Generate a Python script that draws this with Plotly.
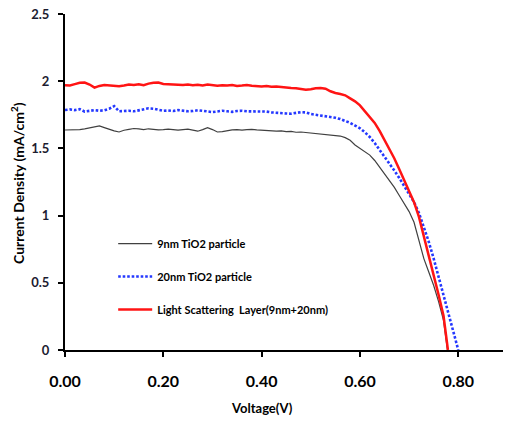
import plotly.graph_objects as go

# ---- data ----
v_9nm = [0.00, 0.01, 0.02, 0.03, 0.04, 0.05, 0.06, 0.07, 0.08, 0.09,
         0.10, 0.11, 0.12, 0.13, 0.14, 0.15, 0.16, 0.17, 0.18, 0.19,
         0.20, 0.21, 0.22, 0.23, 0.24, 0.25, 0.26, 0.27, 0.28, 0.29,
         0.30, 0.31, 0.32, 0.33, 0.34, 0.35, 0.36, 0.37, 0.38, 0.39,
         0.40, 0.41, 0.42, 0.43, 0.44, 0.45, 0.46, 0.47, 0.48, 0.49,
         0.50, 0.51, 0.52, 0.53, 0.54, 0.55, 0.56, 0.57, 0.58, 0.59,
         0.60, 0.61, 0.62, 0.63, 0.64, 0.65, 0.66, 0.67, 0.68, 0.69,
         0.70, 0.71, 0.72, 0.73, 0.74, 0.75, 0.76, 0.77, 0.778]
j_9nm = [1.637, 1.637, 1.637, 1.640, 1.645, 1.652, 1.660, 1.667, 1.655, 1.640,
         1.630, 1.622, 1.635, 1.642, 1.648, 1.645, 1.640, 1.646, 1.642, 1.638,
         1.640, 1.644, 1.640, 1.636, 1.640, 1.643, 1.636, 1.628, 1.640, 1.655,
         1.640, 1.622, 1.625, 1.634, 1.638, 1.640, 1.636, 1.640, 1.642, 1.638,
         1.635, 1.636, 1.632, 1.628, 1.630, 1.625, 1.626, 1.620, 1.622, 1.618,
         1.615, 1.612, 1.606, 1.600, 1.598, 1.596, 1.592, 1.580, 1.560, 1.525,
         1.500, 1.478, 1.450, 1.410, 1.360, 1.310, 1.260, 1.210, 1.150, 1.090,
         1.030, 0.950, 0.820, 0.680, 0.580, 0.480, 0.360, 0.220, 0.000]

v_20nm = [0.00, 0.01, 0.02, 0.03, 0.04, 0.05, 0.06, 0.07, 0.08, 0.09,
          0.10, 0.11, 0.12, 0.13, 0.14, 0.15, 0.16, 0.17, 0.18, 0.19,
          0.20, 0.21, 0.22, 0.23, 0.24, 0.25, 0.26, 0.27, 0.28, 0.29,
          0.30, 0.31, 0.32, 0.33, 0.34, 0.35, 0.36, 0.37, 0.38, 0.39,
          0.40, 0.41, 0.42, 0.43, 0.44, 0.45, 0.46, 0.47, 0.48, 0.49,
          0.50, 0.51, 0.52, 0.53, 0.54, 0.55, 0.56, 0.57, 0.58, 0.59,
          0.60, 0.61, 0.62, 0.63, 0.64, 0.65, 0.66, 0.67, 0.68, 0.69,
          0.70, 0.71, 0.72, 0.73, 0.74, 0.75, 0.76, 0.77, 0.78, 0.79, 0.80]
j_20nm = [1.786, 1.790, 1.785, 1.792, 1.774, 1.780, 1.785, 1.780, 1.784, 1.795,
          1.815, 1.776, 1.778, 1.780, 1.776, 1.785, 1.790, 1.798, 1.795, 1.785,
          1.780, 1.782, 1.778, 1.785, 1.780, 1.776, 1.778, 1.784, 1.780, 1.776,
          1.770, 1.775, 1.780, 1.776, 1.772, 1.778, 1.780, 1.776, 1.775, 1.778,
          1.772, 1.774, 1.768, 1.764, 1.762, 1.760, 1.758, 1.762, 1.770, 1.768,
          1.756, 1.750, 1.745, 1.738, 1.735, 1.728, 1.718, 1.705, 1.690, 1.670,
          1.650, 1.620, 1.585, 1.540, 1.490, 1.440, 1.390, 1.335, 1.280, 1.220,
          1.160, 1.100, 1.020, 0.920, 0.805, 0.680, 0.545, 0.405, 0.265, 0.125, 0.000]

v_lsl = [0.00, 0.01, 0.02, 0.03, 0.04, 0.05, 0.06, 0.07, 0.08, 0.09,
         0.10, 0.11, 0.12, 0.13, 0.14, 0.15, 0.16, 0.17, 0.18, 0.19,
         0.20, 0.21, 0.22, 0.23, 0.24, 0.25, 0.26, 0.27, 0.28, 0.29,
         0.30, 0.31, 0.32, 0.33, 0.34, 0.35, 0.36, 0.37, 0.38, 0.39,
         0.40, 0.41, 0.42, 0.43, 0.44, 0.45, 0.46, 0.47, 0.48, 0.49,
         0.50, 0.51, 0.52, 0.53, 0.54, 0.55, 0.56, 0.57, 0.58, 0.59,
         0.60, 0.61, 0.62, 0.63, 0.64, 0.65, 0.66, 0.67, 0.68, 0.69,
         0.70, 0.71, 0.72, 0.73, 0.74, 0.75, 0.76, 0.77, 0.779]
j_lsl = [1.970, 1.968, 1.978, 1.988, 1.990, 1.975, 1.952, 1.965, 1.972, 1.970,
         1.966, 1.962, 1.968, 1.975, 1.972, 1.978, 1.970, 1.982, 1.988, 1.990,
         1.980, 1.978, 1.975, 1.970, 1.972, 1.976, 1.970, 1.974, 1.968, 1.975,
         1.972, 1.966, 1.970, 1.968, 1.972, 1.965, 1.968, 1.972, 1.966, 1.962,
         1.960, 1.964, 1.958, 1.960, 1.955, 1.952, 1.950, 1.948, 1.942, 1.936,
         1.940, 1.948, 1.950, 1.944, 1.925, 1.912, 1.905, 1.895, 1.872, 1.850,
         1.820, 1.775, 1.735, 1.690, 1.630, 1.565, 1.500, 1.425, 1.345, 1.265,
         1.180, 1.100, 0.990, 0.850, 0.710, 0.560, 0.410, 0.255, 0.000]

names = ["9nm TiO2 particle", "20nm TiO2 particle",
         "Light Scattering  Layer(9nm+20nm)"]
x_ticks = [0.0, 0.2, 0.4, 0.6, 0.8]
y_ticks = [0, 0.5, 1, 1.5, 2, 2.5]
y_ticklabels = ["0", "0.5", "1", "1.5", "2", "2.5"]

FONT = "Lato"

fig = go.Figure()
fig.add_trace(go.Scatter(x=v_9nm, y=j_9nm, mode="lines", name=names[0],
                         legendgroup="a",
                         line=dict(color="#404040", width=1.2)))
fig.add_trace(go.Scatter(x=v_20nm, y=j_20nm, mode="lines", name=names[1],
                         legendgroup="b",
                         line=dict(color="#2438ff", width=2.6, dash="2.6px,1.9px")))
fig.add_trace(go.Scatter(x=v_lsl, y=j_lsl, mode="lines", name=names[2],
                         legendgroup="c",
                         line=dict(color="#ff1414", width=2.5)))

fig.update_layout(
    width=505, height=421,
    margin=dict(l=65, r=2, t=14, b=71, autoexpand=False),
    paper_bgcolor="white", plot_bgcolor="white",
    font=dict(family=FONT, color="black"),
    showlegend=True,
    legend=dict(x=0.11, y=0.36, xanchor="left", yanchor="top",
                bgcolor="rgba(0,0,0,0)", tracegroupgap=14, itemwidth=34,
                font=dict(family=FONT, size=11, color="black", weight="bold")),
    xaxis=dict(range=[0, 0.891], tickvals=x_ticks, tickformat=".2f",
               showgrid=False, zeroline=False, showline=True,
               linecolor="black", linewidth=2,
               ticks="outside", ticklen=5, tickwidth=2, tickcolor="black",
               ticklabelstandoff=11, ticklabeloverflow="allow",
               tickfont=dict(family=FONT, size=16, color="black", weight="bold")),
    yaxis=dict(range=[0, 2.5], tickvals=y_ticks, ticktext=y_ticklabels,
               showgrid=False, zeroline=False, showline=True,
               linecolor="black", linewidth=2,
               ticks="outside", ticklen=5, tickwidth=2, tickcolor="black",
               ticklabelstandoff=6, ticklabeloverflow="allow",
               tickfont=dict(family=FONT, size=13, color="#1c1c30", weight="bold")),
    annotations=[
        dict(text="Voltage(V)", xref="paper", yref="paper",
             x=0.4498, y=-0.1726, xanchor="center", yanchor="middle",
             showarrow=False,
             font=dict(family=FONT, size=13, color="black", weight="bold")),
        dict(text="Current Density (mA/cm<sup>2</sup>)", xref="paper", yref="paper",
             x=-0.1096, y=0.497, xanchor="center", yanchor="middle",
             textangle=-90, showarrow=False,
             font=dict(family=FONT, size=14, color="black", weight="bold")),
    ],
)

# remove the browser's default 8px body margin so the figure fills the window
fig.write_html("out.html",
               config={"displayModeBar": False},
               post_script="document.body.style.margin='0';"
                           "document.body.style.overflow='hidden';")
